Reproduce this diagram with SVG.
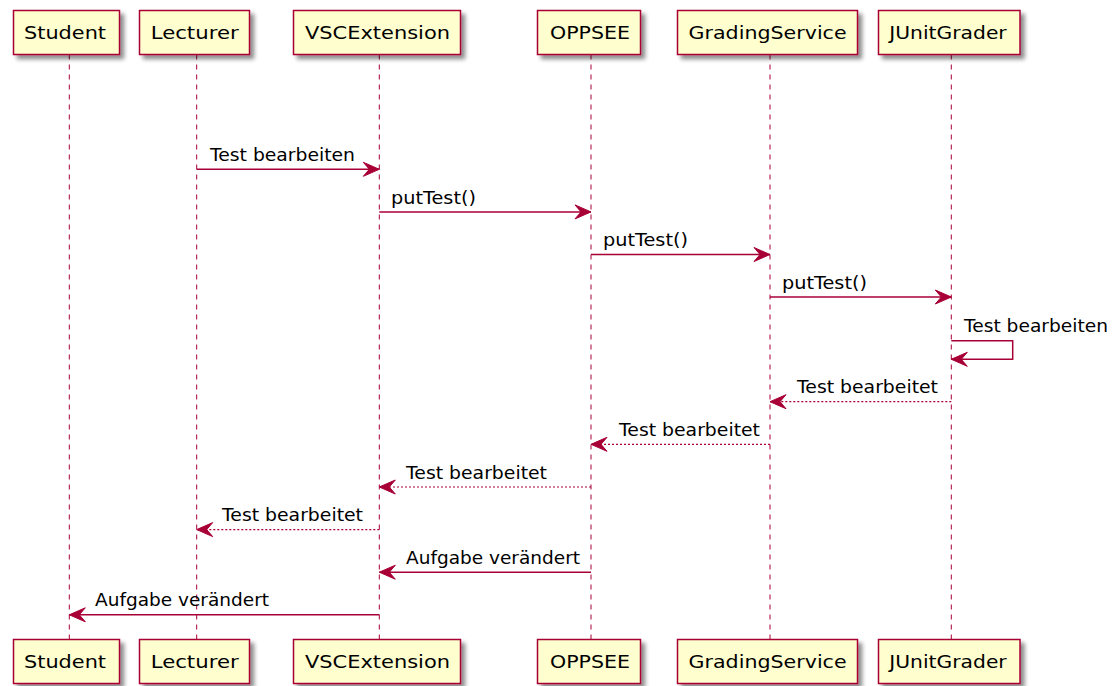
<svg xmlns="http://www.w3.org/2000/svg" width="1113" height="686" viewBox="0 0 1113 686">
<style>
.box{fill:#FEFECE;stroke:#A80036;stroke-width:1.5}
.life{stroke:#A80036;stroke-width:1;stroke-dasharray:5,5;fill:none}
.msg{stroke:#A80036;stroke-width:1.5;fill:none}
.ret{stroke:#A80036;stroke-width:1.2;fill:none;stroke-dasharray:2,2}
.pt{font-family:"DejaVu Sans",sans-serif;font-size:18.5px;fill:#000}
.mt{font-family:"DejaVu Sans",sans-serif;font-size:17px;fill:#000}
</style>
<defs>
<filter id="sh" x="-20%" y="-20%" width="150%" height="160%">
<feGaussianBlur in="SourceAlpha" stdDeviation="2"/>
<feOffset dx="4" dy="4" result="b"/>
<feComponentTransfer><feFuncA type="linear" slope="0.45"/></feComponentTransfer>
<feMerge><feMergeNode/><feMergeNode in="SourceGraphic"/></feMerge>
</filter>
<marker id="ah" markerUnits="userSpaceOnUse" viewBox="-18 -9 19 18" refX="0" refY="0" markerWidth="19" markerHeight="18" orient="auto">
<path d="M0,0 L-16,-7 L-10,0 L-16,7 Z" fill="#A80036" stroke="#A80036" stroke-width="1"/>
</marker>
</defs>
<rect width="1113" height="686" fill="#FFFFFF"/>
<g id="lifelines">
<line class="life" x1="69.3" y1="54.5" x2="69.3" y2="639.5"/>
<line class="life" x1="196.7" y1="54.5" x2="196.7" y2="639.5"/>
<line class="life" x1="379.3" y1="54.5" x2="379.3" y2="639.5"/>
<line class="life" x1="591" y1="54.5" x2="591" y2="639.5"/>
<line class="life" x1="770" y1="54.5" x2="770" y2="639.5"/>
<line class="life" x1="951.3" y1="54.5" x2="951.3" y2="639.5"/>
</g>
<g id="Student">
<rect class="box" filter="url(#sh)" x="13.5" y="10.5" width="106" height="44"/>
<text class="pt" x="24" y="39.3" textLength="82" lengthAdjust="spacingAndGlyphs">Student</text>
<rect class="box" filter="url(#sh)" x="13.5" y="639.5" width="106" height="44"/>
<text class="pt" x="24" y="668.3" textLength="82" lengthAdjust="spacingAndGlyphs">Student</text>
</g>
<g id="Lecturer">
<rect class="box" filter="url(#sh)" x="139.5" y="10.5" width="110" height="44"/>
<text class="pt" x="150.7" y="39.3" textLength="88" lengthAdjust="spacingAndGlyphs">Lecturer</text>
<rect class="box" filter="url(#sh)" x="139.5" y="639.5" width="110" height="44"/>
<text class="pt" x="150.7" y="668.3" textLength="88" lengthAdjust="spacingAndGlyphs">Lecturer</text>
</g>
<g id="VSCExtension">
<rect class="box" filter="url(#sh)" x="293.5" y="10.5" width="167" height="44"/>
<text class="pt" x="305" y="39.3" textLength="145" lengthAdjust="spacingAndGlyphs">VSCExtension</text>
<rect class="box" filter="url(#sh)" x="293.5" y="639.5" width="167" height="44"/>
<text class="pt" x="305" y="668.3" textLength="145" lengthAdjust="spacingAndGlyphs">VSCExtension</text>
</g>
<g id="OPPSEE">
<rect class="box" filter="url(#sh)" x="537.5" y="10.5" width="103" height="44"/>
<text class="pt" x="550" y="39.3" textLength="80" lengthAdjust="spacingAndGlyphs">OPPSEE</text>
<rect class="box" filter="url(#sh)" x="537.5" y="639.5" width="103" height="44"/>
<text class="pt" x="550" y="668.3" textLength="80" lengthAdjust="spacingAndGlyphs">OPPSEE</text>
</g>
<g id="GradingService">
<rect class="box" filter="url(#sh)" x="677.5" y="10.5" width="180" height="44"/>
<text class="pt" x="688.6" y="39.3" textLength="158" lengthAdjust="spacingAndGlyphs">GradingService</text>
<rect class="box" filter="url(#sh)" x="677.5" y="639.5" width="180" height="44"/>
<text class="pt" x="688.6" y="668.3" textLength="158" lengthAdjust="spacingAndGlyphs">GradingService</text>
</g>
<g id="JUnitGrader">
<rect class="box" filter="url(#sh)" x="878.5" y="10.5" width="141.5" height="44"/>
<text class="pt" x="889.3" y="39.3" textLength="117.4" lengthAdjust="spacingAndGlyphs">JUnitGrader</text>
<rect class="box" filter="url(#sh)" x="878.5" y="639.5" width="141.5" height="44"/>
<text class="pt" x="889.3" y="668.3" textLength="117.4" lengthAdjust="spacingAndGlyphs">JUnitGrader</text>
</g>
<g id="connectors">
<path class="msg" marker-end="url(#ah)" d="M196.7,169.3 H379.3"/>
<path class="msg" marker-end="url(#ah)" d="M379.3,211.9 H591"/>
<path class="msg" marker-end="url(#ah)" d="M591,254.5 H770"/>
<path class="msg" marker-end="url(#ah)" d="M770,297 H951.3"/>
<path class="msg" marker-end="url(#ah)" d="M951.3,340.7 H1012.7 V359.3 H951.3"/>
<path class="ret" marker-end="url(#ah)" d="M951.3,401.7 H770"/>
<path class="ret" marker-end="url(#ah)" d="M770,444.3 H591"/>
<path class="ret" marker-end="url(#ah)" d="M591,487 H379.3"/>
<path class="ret" marker-end="url(#ah)" d="M379.3,529.6 H196.7"/>
<path class="msg" marker-end="url(#ah)" d="M591,572.2 H379.3"/>
<path class="msg" marker-end="url(#ah)" d="M379.3,614.8 H69.3"/>
<text class="mt" x="210" y="161" textLength="145" lengthAdjust="spacingAndGlyphs">Test bearbeiten</text>
<text class="mt" x="391" y="203.5" textLength="85" lengthAdjust="spacingAndGlyphs">putTest()</text>
<text class="mt" x="603" y="246" textLength="85" lengthAdjust="spacingAndGlyphs">putTest()</text>
<text class="mt" x="782" y="288.5" textLength="85" lengthAdjust="spacingAndGlyphs">putTest()</text>
<text class="mt" x="964" y="332" textLength="144" lengthAdjust="spacingAndGlyphs">Test bearbeiten</text>
<text class="mt" x="797" y="393.2" textLength="141" lengthAdjust="spacingAndGlyphs">Test bearbeitet</text>
<text class="mt" x="619" y="436" textLength="141" lengthAdjust="spacingAndGlyphs">Test bearbeitet</text>
<text class="mt" x="406" y="478.5" textLength="141" lengthAdjust="spacingAndGlyphs">Test bearbeitet</text>
<text class="mt" x="222" y="521" textLength="141" lengthAdjust="spacingAndGlyphs">Test bearbeitet</text>
<text class="mt" x="406" y="563.7" textLength="174" lengthAdjust="spacingAndGlyphs">Aufgabe verändert</text>
<text class="mt" x="95" y="606.3" textLength="174" lengthAdjust="spacingAndGlyphs">Aufgabe verändert</text>
</g>
</svg>
